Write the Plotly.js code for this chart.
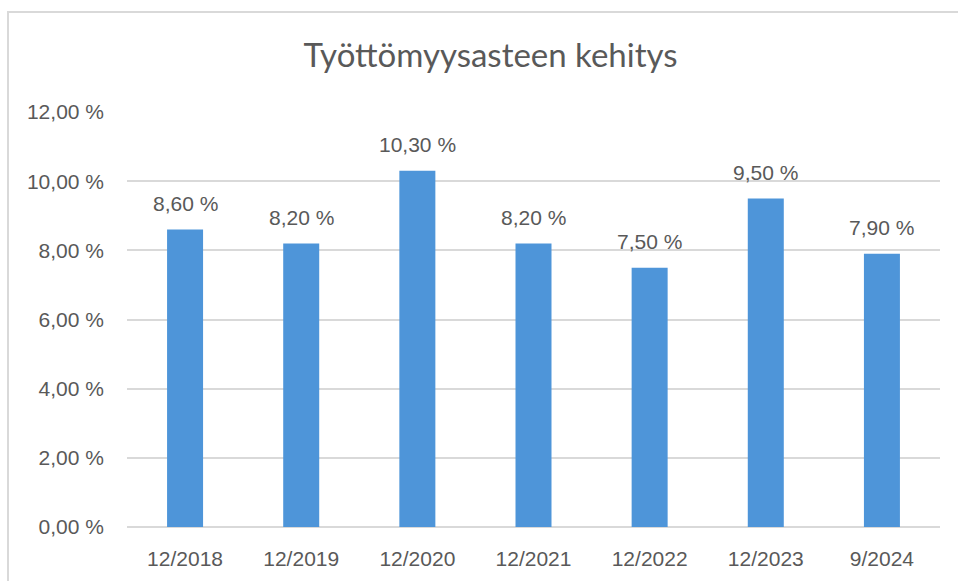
<!DOCTYPE html>
<html>
<head>
<meta charset="utf-8">
<script src="https://cdn.plot.ly/plotly-3.0.1.min.js"></script>
<style>
html,body{margin:0;padding:0;background:#fff;}
#chart{width:958px;height:581px;}
</style>
</head>
<body>
<div id="chart"></div>
<script>
const categories = ["12/2018","12/2019","12/2020","12/2021","12/2022","12/2023","9/2024"];
const values = [8.6, 8.2, 10.3, 8.2, 7.5, 9.5, 7.9];
const yTicks = [0, 2, 4, 6, 8, 10, 12];
const titleText = "Työttömyysasteen kehitys";

const fmt = v => v.toFixed(2).replace('.', ',') + ' %';
const textColor = '#595959';
const gridColor = '#D9D9D9';
const labelFont = 'Liberation Sans, Arial, sans-serif';

const trace = {
  type: 'bar',
  x: categories,
  y: values,
  marker: {color: '#4E95D9'},
  hoverinfo: 'skip'
};

const annotations = categories.map((c, i) => ({
  x: c, y: values[i], xref: 'x', yref: 'y',
  text: fmt(values[i]), showarrow: false,
  yanchor: 'middle', xanchor: 'center', yshift: 26,
  font: {family: labelFont, size: 21, color: textColor}
}));

// chart frame
const L = 127, R = 18, T = 112, B = 54, W = 958, H = 581;
const pw = W - L - R, ph = H - T - B;
const px2x = p => (p - L) / pw;
const py2y = p => (H - B - p) / ph;

const layout = {
  width: W, height: H,
  margin: {l: L, r: R, t: T, b: B},
  paper_bgcolor: '#fff', plot_bgcolor: '#fff',
  separators: ', ',
  bargap: 0.69,
  showlegend: false,
  title: {
    text: titleText,
    xref: 'container', yref: 'container',
    x: 490.5 / W, xanchor: 'center',
    y: 1 - 55 / H, yanchor: 'middle',
    font: {family: 'Lato, Inter, sans-serif', size: 33, color: textColor}
  },
  xaxis: {
    type: 'category',
    tickfont: {family: labelFont, size: 21, color: textColor},
    showgrid: false, showline: false, zeroline: false,
    ticks: '', ticklabelstandoff: 17,
    fixedrange: true
  },
  yaxis: {
    range: [0, 12],
    tickvals: yTicks,
    ticktext: yTicks.map(fmt),
    tickfont: {family: labelFont, size: 21, color: textColor},
    showgrid: true, gridcolor: gridColor, gridwidth: 2,
    zeroline: true, zerolinecolor: gridColor, zerolinewidth: 2,
    showline: false, ticks: '', ticklabelstandoff: 22,
    fixedrange: true
  },
  annotations: annotations,
  shapes: [{
    type: 'rect', xref: 'paper', yref: 'paper', layer: 'below',
    x0: px2x(8), x1: px2x(W + 20), y0: py2y(H + 20), y1: py2y(12),
    line: {color: gridColor, width: 2}, fillcolor: 'rgba(0,0,0,0)'
  }]
};

Plotly.newPlot('chart', [trace], layout, {displayModeBar: false, staticPlot: true});
</script>
</body>
</html>
